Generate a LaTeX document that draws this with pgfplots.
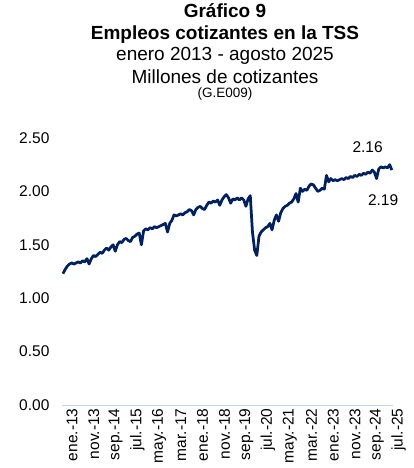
\documentclass[border=0pt]{standalone}
\usepackage{pgfplots}
\pgfplotsset{compat=1.18}
\usepackage{pgfplotstable}
\usepackage{fontspec}
\setmainfont{Liberation Sans}
\definecolor{navy}{RGB}{0,32,96}
\definecolor{axblue}{RGB}{189,215,238}
\pgfplotstableread{
v
1.23
1.27
1.30
1.32
1.33
1.32
1.33
1.34
1.33
1.35
1.34
1.37
1.32
1.37
1.40
1.39
1.41
1.43
1.42
1.45
1.47
1.45
1.48
1.50
1.44
1.50
1.53
1.52
1.55
1.56
1.54
1.53
1.57
1.58
1.60
1.61
1.50
1.63
1.65
1.64
1.66
1.65
1.67
1.66
1.67
1.68
1.69
1.70
1.62
1.70
1.73
1.78
1.77
1.78
1.79
1.78
1.80
1.81
1.83
1.82
1.78
1.83
1.85
1.86
1.84
1.83
1.87
1.90
1.89
1.91
1.90
1.92
1.87
1.92
1.95
1.97
1.94
1.89
1.93
1.92
1.94
1.92
1.94
1.92
1.86
1.93
1.96
1.62
1.45
1.40
1.58
1.62
1.64
1.66
1.67
1.70
1.64
1.73
1.78
1.72
1.80
1.84
1.86
1.87
1.89
1.90
1.93
1.98
1.90
2.03
2.00
2.02
2.01
2.05
2.07
2.06
2.03
2.00
2.01
2.03
2.02
2.15
2.09
2.12
2.10
2.11
2.10
2.11
2.12
2.11
2.13
2.12
2.14
2.13
2.15
2.14
2.16
2.15
2.17
2.16
2.18
2.17
2.20
2.18
2.12
2.21
2.23
2.22
2.23
2.22
2.25
2.20
}\tss
\begin{document}
\begin{tikzpicture}
\useasboundingbox (-63bp,-63bp) rectangle (351bp,405bp);
\begin{axis}[
  at={(0,0)}, anchor=origin,
  scale only axis,
  width=331bp, height=267bp,
  xmin=-0.5, xmax=151.5,
  ymin=0, ymax=2.5,
  axis x line*=bottom,
  axis y line*=left,
  x axis line style={draw=axblue, line width=1bp, -},
  y axis line style={draw=none},
  major tick length=0pt,
  ytick={0,0.5,1,1.5,2,2.5},
  xtick={0,10,...,150},
  xticklabels={ene.-13,nov.-13,sep.-14,jul.-15,may.-16,mar.-17,ene.-18,nov.-18,sep.-19,jul.-20,may.-21,mar.-22,ene.-23,nov.-23,sep.-24,jul.-25},
  xticklabel style={rotate=90, anchor=east, yshift=-9bp, font=\fontsize{15.5bp}{18bp}\selectfont},
  yticklabel style={xshift=-9bp, font=\fontsize{15.5bp}{18bp}\selectfont,
    /pgf/number format/fixed, /pgf/number format/fixed zerofill, /pgf/number format/precision=2,
    /pgf/number format/assume math mode=true},
  clip=false,
]
\addplot[navy, line width=2.75bp, line join=round] table[x expr=\coordindex, y=v] {\tss};
\node[font=\fontsize{15.5bp}{18bp}\selectfont] at (axis cs:139.9,2.41) {2.16};
\node[font=\fontsize{15.5bp}{18bp}\selectfont] at (axis cs:147.0,1.92) {2.19};
\end{axis}
\begin{scope}[every node/.style={anchor=base, inner sep=0pt}]
\node[font=\fontsize{19bp}{22bp}\selectfont\bfseries] at (162bp,387.7bp) {Gráfico 9};
\node[font=\fontsize{19bp}{22bp}\selectfont\bfseries] at (162bp,365.7bp) {Empleos cotizantes en la TSS};
\node[font=\fontsize{19bp}{22bp}\selectfont] at (162bp,344bp) {enero 2013 - agosto 2025};
\node[font=\fontsize{19bp}{22bp}\selectfont] at (162bp,321.7bp) {Millones de cotizantes};
\node[font=\fontsize{13.5bp}{16bp}\selectfont] at (162bp,307.5bp) {(G.E009)};
\end{scope}
\end{tikzpicture}
\end{document}
